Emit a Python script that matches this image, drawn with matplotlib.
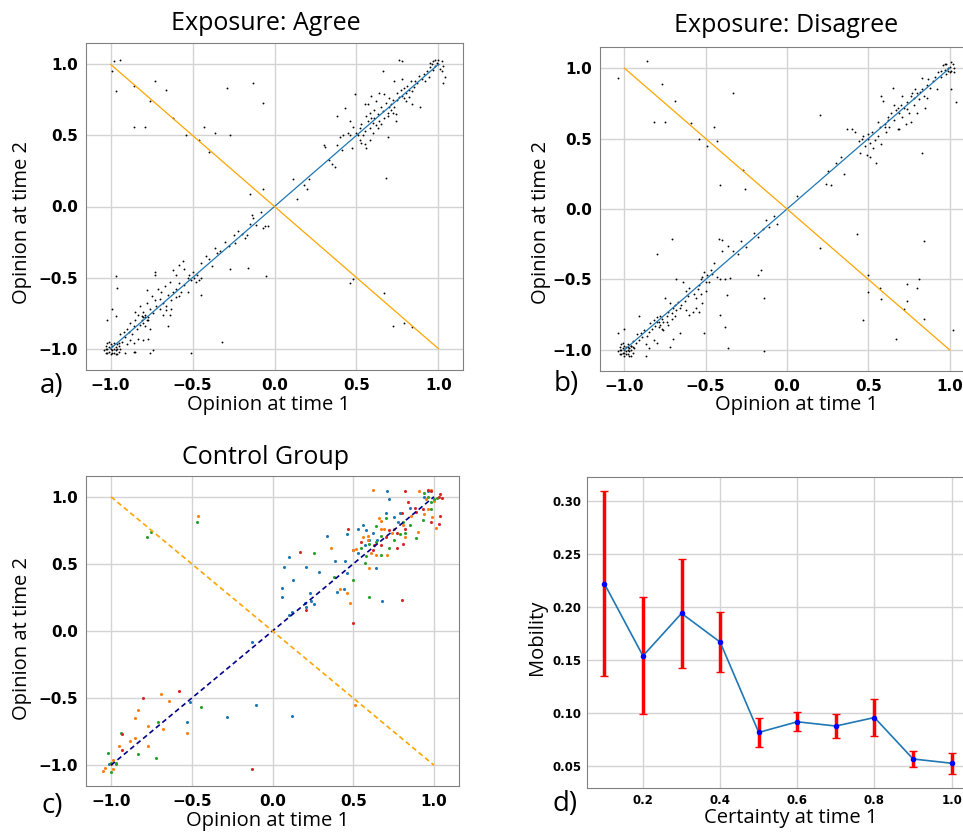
import numpy as np
import matplotlib.pyplot as plt

# ---- data ----
# panel a, Exposure: Agree  (opinion t1, opinion t2)
agree_pts = [
    (-0.98, 1.02), (-0.99, 0.95), (-0.94, 1.03), (-0.97, 0.81), (-0.86, 0.85), (-0.73, 0.88),
    (-0.66, 0.82), (-0.76, 0.74), (-0.86, 0.56), (-0.79, 0.56), (-0.62, 0.62), (-0.54, 0.50),
    (-0.46, 0.47), (-0.43, 0.56), (-0.36, 0.52), (-0.40, 0.38), (-0.29, 0.83), (-0.13, 0.87),
    (-0.07, 0.73), (-0.27, 0.50),
    (-0.15, 0.09), (-0.07, 0.12), (0.11, 0.19), (0.14, 0.05), (0.20, 0.12), (0.21, 0.19),
    (0.46, -0.54), (0.48, -0.51), (0.67, -0.61), (0.72, -0.84), (0.79, -0.82), (0.84, -0.85),
    (0.68, 0.20),
    (-0.32, -0.95), (-0.51, -1.03), (-0.05, -0.49), (-0.16, -0.43), (-0.45, -0.62), (-0.27, -0.44),
    (-0.97, -0.49), (-0.96, -0.57), (-1.02, -0.80), (-0.99, -0.72), (-0.97, -0.77), (-0.65, -0.84),
    (-0.74, -1.01), (-0.76, -1.03), (-0.91, -1.03), (-0.86, -1.02), (-0.85, -1.02), (-0.80, -0.94),
    (-0.45, -0.40), (-0.42, -0.35), (-0.40, -0.37), (-0.38, -0.42), (-0.36, -0.29), (-0.33, -0.31),
    (-0.30, -0.25), (-0.28, -0.28), (-0.25, -0.20), (-0.24, -0.26), (-0.22, -0.17), (-0.20, -0.19),
    (-0.18, -0.22), (-0.15, -0.12), (-0.14, -0.06), (-0.13, -0.08), (-0.11, -0.13), (-0.08, -0.04),
    (-0.06, -0.14), (-0.04, -0.14), (-0.07, -0.15), (-0.17, -0.20), (-0.35, -0.33),
    (-0.52, -0.48), (-0.50, -0.46), (-0.47, -0.48), (-0.46, -0.52), (-0.48, -0.53), (-0.51, -0.52),
    (-0.53, -0.50), (-0.49, -0.50), (-0.45, -0.50), (-0.55, -0.44), (-0.56, -0.38), (-0.58, -0.41),
    (-0.60, -0.48), (-0.62, -0.45), (-0.58, -0.54),
    (-0.62, -0.60), (-0.63, -0.66), (-0.65, -0.62), (-0.66, -0.70), (-0.67, -0.56), (-0.68, -0.68),
    (-0.70, -0.65), (-0.70, -0.72), (-0.72, -0.70), (-0.73, -0.66), (-0.74, -0.75), (-0.75, -0.63),
    (-0.76, -0.72), (-0.77, -0.78), (-0.78, -0.68), (-0.79, -0.76), (-0.80, -0.78), (-0.80, -0.74),
    (-0.81, -0.80), (-0.82, -0.83), (-0.83, -0.76), (-0.84, -0.86), (-0.85, -0.80), (-0.86, -0.84),
    (-0.87, -0.90), (-0.88, -0.82), (-0.89, -0.88), (-0.90, -0.86), (-0.91, -0.92), (-0.92, -0.88),
    (-0.93, -0.95), (-0.94, -0.90), (-0.95, -0.96), (-0.60, -0.58), (-0.57, -0.60), (-0.55, -0.55),
    (-0.64, -0.53), (-0.69, -0.60), (-0.71, -0.58), (-0.73, -0.46), (-0.73, -0.48), (-0.78, -0.59),
    (-0.66, -0.73), (-0.64, -0.76), (-0.60, -0.64), (-0.58, -0.63), (-0.53, -0.60), (-0.79, -0.84),
    (-0.77, -0.80), (-0.81, -0.77), (-0.79, -0.78), (-0.78, -0.80), (-0.80, -0.82), (-0.76, -0.86),
    (-0.77, -0.93), (-0.83, -0.93), (-0.86, -0.96), (-0.88, -0.94), (-0.90, -0.97), (-0.82, -0.70),
    (-0.68, -0.76), (-0.63, -0.72), (-0.85, -0.74),
    (-1.03, -0.98), (-1.02, -1.00), (-1.01, -1.02), (-1.00, -0.97), (-0.99, -1.01), (-0.98, -1.03),
    (-0.97, -0.99), (-0.96, -1.00), (-1.03, -1.03), (-1.02, -0.96), (-1.00, -1.04), (-0.98, -0.96),
    (-0.97, -1.04), (-0.96, -0.97), (-0.95, -1.02), (-1.01, -0.99), (-0.99, -0.98), (-1.04, -1.01),
    (-0.95, -0.98), (-1.00, -1.00), (-0.98, -1.00), (-1.02, -1.03), (-0.96, -1.04), (-1.01, -0.95),
    (-0.97, -1.01), (-0.94, -1.00), (-0.99, -1.03), (-1.03, -1.00),
    (0.30, 0.43), (0.31, 0.42), (0.33, 0.33), (0.35, 0.30), (0.37, 0.28), (0.38, 0.43), (0.38, 0.64),
    (0.40, 0.49), (0.41, 0.40), (0.42, 0.50), (0.43, 0.69), (0.45, 0.52), (0.46, 0.50), (0.46, 0.60),
    (0.47, 0.41), (0.48, 0.56), (0.49, 0.79), (0.50, 0.52), (0.51, 0.50), (0.52, 0.55), (0.52, 0.47),
    (0.53, 0.45), (0.54, 0.50), (0.55, 0.72), (0.55, 0.44), (0.56, 0.41), (0.56, 0.64), (0.57, 0.60),
    (0.58, 0.66), (0.58, 0.55), (0.59, 0.62), (0.60, 0.59), (0.61, 0.62), (0.61, 0.68), (0.62, 0.57),
    (0.62, 0.74), (0.63, 0.65), (0.63, 0.55), (0.64, 0.60), (0.65, 0.70), (0.66, 0.67), (0.66, 0.95),
    (0.67, 0.62), (0.68, 0.73), (0.69, 0.66), (0.69, 0.49), (0.70, 0.70), (0.71, 0.68), (0.71, 0.72),
    (0.72, 0.75), (0.72, 0.66), (0.73, 0.70), (0.74, 0.60), (0.75, 0.75), (0.75, 0.80), (0.76, 0.77),
    (0.77, 0.82), (0.78, 0.78), (0.78, 0.90), (0.79, 0.83), (0.80, 0.80), (0.80, 0.74), (0.81, 0.85),
    (0.82, 0.77), (0.83, 0.88), (0.84, 0.72), (0.85, 0.84), (0.86, 0.88), (0.87, 0.87), (0.88, 0.92),
    (0.89, 0.70), (0.90, 0.90), (0.91, 0.93), (0.92, 0.88), (0.93, 0.95), (0.94, 0.91), (0.95, 0.98),
    (0.96, 1.00), (0.97, 1.02), (0.98, 0.99), (0.99, 1.01), (1.00, 1.00), (1.01, 0.97), (1.02, 1.02),
    (1.03, 0.99), (1.00, 1.03), (0.97, 0.96), (1.02, 0.95), (1.04, 0.91), (1.03, 0.87), (0.98, 1.03),
    (0.95, 1.01), (0.76, 1.03), (0.78, 1.02), (0.64, 0.80), (0.57, 0.72), (0.59, 0.78), (0.67, 0.79),
    (0.73, 0.88), (0.69, 0.64), (0.60, 0.52), (0.58, 0.47), (0.55, 0.53), (0.53, 0.58), (0.65, 0.58),
    (0.70, 0.76), (0.74, 0.65), (0.82, 0.82), (0.84, 0.81), (0.79, 0.76), (0.18, 0.15),
]

# panel b, Exposure: Disagree
disagree_pts = [
    (-1.04, 0.93), (-0.86, 1.05), (-0.77, 0.89), (-0.69, 0.77), (-0.82, 0.62), (-0.75, 0.62),
    (-0.59, 0.61), (-0.54, 0.50), (-0.49, 0.45), (-0.45, 0.58), (-0.43, 0.48), (-0.33, 0.82),
    (-0.27, 0.28), (-0.26, 0.14), (-0.41, 0.17), (-0.06, -0.11), (0.06, 0.09), (0.20, 0.67),
    (0.20, -0.28), (0.43, -0.18), (0.50, -0.47), (0.50, -0.59), (0.57, -0.56), (0.58, -0.64),
    (0.47, -0.79), (0.67, -0.92), (0.74, -0.65), (0.74, -0.53), (0.80, -0.56), (0.81, -0.50),
    (0.84, -0.23), (0.84, -0.78), (0.72, -0.71), (1.02, -0.86), (1.04, 0.76), (0.83, 0.40),
    (1.01, 0.85),
    (-0.71, -0.21), (-0.80, -0.32), (-0.16, -0.43), (-0.18, -0.47), (-0.14, -0.63), (-0.14, -1.01),
    (-0.36, -0.99), (-0.38, -0.84), (-0.41, -0.75), (-0.51, -0.88), (-0.37, -0.61), (-0.87, -1.04),
    (-0.85, -0.99), (-0.72, -0.98), (-0.80, -0.95), (-0.70, -0.92), (-0.66, -0.88), (-1.04, -0.88),
    (-1.00, -0.85), (-0.91, -0.76),
    (-0.45, -0.38), (-0.43, -0.48), (-0.40, -0.30), (-0.40, -0.22), (-0.42, -0.21), (-0.36, -0.26),
    (-0.33, -0.30), (-0.30, -0.32), (-0.28, -0.23), (-0.25, -0.27), (-0.20, -0.17), (-0.18, -0.20),
    (-0.15, -0.14), (-0.13, -0.08), (-0.11, -0.13), (-0.08, -0.05), (-0.38, -0.50), (-0.41, -0.50),
    (-0.35, -0.49), (-0.47, -0.43), (-0.46, -0.46),
    (-0.52, -0.48), (-0.50, -0.52), (-0.49, -0.47), (-0.53, -0.50), (-0.48, -0.52), (-0.51, -0.45),
    (-0.54, -0.54), (-0.55, -0.57), (-0.57, -0.60), (-0.56, -0.63), (-0.53, -0.60), (-0.50, -0.58),
    (-0.52, -0.67), (-0.60, -0.56), (-0.62, -0.58), (-0.61, -0.62), (-0.63, -0.65), (-0.64, -0.52),
    (-0.68, -0.50),
    (-0.65, -0.68), (-0.66, -0.70), (-0.67, -0.66), (-0.68, -0.72), (-0.69, -0.68), (-0.70, -0.70),
    (-0.71, -0.74), (-0.72, -0.67), (-0.73, -0.73), (-0.74, -0.76), (-0.75, -0.63), (-0.76, -0.80),
    (-0.77, -0.78), (-0.78, -0.82), (-0.79, -0.80), (-0.80, -0.77), (-0.81, -0.83), (-0.82, -0.79),
    (-0.83, -0.85), (-0.84, -0.81), (-0.85, -0.87), (-0.86, -0.90), (-0.88, -0.86), (-0.89, -0.91),
    (-0.90, -0.88), (-0.91, -0.93), (-0.92, -0.89), (-0.93, -0.95), (-0.95, -0.94), (-0.96, -0.97),
    (-0.78, -0.76), (-0.80, -0.80), (-0.79, -0.84), (-0.77, -0.85), (-0.74, -0.80), (-0.71, -0.78),
    (-0.69, -0.76), (-0.62, -0.72), (-0.60, -0.75), (-0.58, -0.73), (-0.56, -0.70), (-0.54, -0.73),
    (-0.87, -0.96), (-0.82, -0.93), (-0.76, -0.86), (-0.73, -0.82),
    (-1.03, -0.98), (-1.02, -1.00), (-1.01, -1.02), (-1.00, -0.97), (-0.99, -1.01), (-0.98, -1.03),
    (-0.97, -0.99), (-0.96, -1.00), (-1.03, -1.03), (-1.02, -0.96), (-1.00, -1.04), (-0.98, -0.96),
    (-0.97, -1.04), (-0.96, -0.97), (-0.95, -1.02), (-1.01, -0.99), (-0.99, -0.98), (-1.04, -1.01),
    (-0.95, -0.98), (-1.00, -1.00), (-0.98, -1.00), (-1.02, -1.03), (-0.96, -1.04), (-1.01, -0.95),
    (-0.97, -1.01), (-0.94, -0.99), (-0.99, -1.03), (-1.03, -1.00), (-1.00, -1.02), (-0.98, -0.98),
    (0.25, 0.27), (0.27, 0.17), (0.24, 0.18), (0.30, 0.33), (0.33, 0.37), (0.35, 0.25), (0.37, 0.57),
    (0.40, 0.57), (0.42, 0.55), (0.44, 0.48), (0.45, 0.40), (0.46, 0.50), (0.47, 0.52), (0.48, 0.45),
    (0.49, 0.38), (0.50, 0.50), (0.50, 0.53), (0.51, 0.47), (0.51, 0.37), (0.52, 0.55), (0.53, 0.43),
    (0.54, 0.49), (0.55, 0.33), (0.56, 0.52), (0.56, 0.62), (0.57, 0.58), (0.58, 0.46), (0.58, 0.80),
    (0.59, 0.77), (0.60, 0.60), (0.61, 0.55), (0.62, 0.63), (0.62, 0.65), (0.63, 0.58), (0.64, 0.68),
    (0.65, 0.86), (0.66, 0.63), (0.67, 0.70), (0.68, 0.72), (0.68, 0.57), (0.69, 0.68), (0.70, 0.74),
    (0.71, 0.65), (0.72, 0.72), (0.73, 0.60), (0.74, 0.76), (0.75, 0.68), (0.76, 0.80), (0.77, 0.82),
    (0.78, 0.74), (0.79, 0.85), (0.80, 0.68), (0.81, 0.78), (0.82, 0.83), (0.83, 0.85), (0.84, 0.80),
    (0.85, 0.72), (0.86, 0.88), (0.87, 0.92), (0.88, 0.86), (0.90, 0.91), (0.91, 0.94), (0.92, 0.85),
    (0.93, 0.97), (0.95, 0.98), (0.96, 1.02), (0.97, 0.99), (0.98, 1.03), (0.99, 1.00), (1.00, 1.01),
    (1.01, 0.98), (1.02, 1.03), (1.03, 1.00), (1.00, 0.97), (0.98, 0.96), (1.01, 1.04), (0.97, 1.03),
    (1.03, 0.97), (0.99, 0.98), (0.95, 0.94), (0.71, 0.80), (0.66, 0.74), (0.60, 0.58), (0.74, 0.71),
    (0.78, 0.79), (0.69, 0.57), (0.76, 0.62), (0.80, 0.82), (0.86, 0.79), (0.83, 0.93),
]

# panel c, Control Group, four groups
control_blue = [
    (0.71, 1.04), (0.72, 0.98), (0.96, 1.04), (0.70, 0.88), (0.75, 0.85), (0.78, 0.81), (0.56, 0.79),
    (0.58, 0.75), (0.53, 0.76), (0.46, 0.72), (0.34, 0.71), (0.62, 0.73), (0.65, 0.68), (0.57, 0.64),
    (0.53, 0.58), (0.39, 0.52), (0.45, 0.52), (0.10, 0.55), (0.07, 0.48), (0.21, 0.48), (0.29, 0.44),
    (0.13, 0.38), (0.06, 0.32), (0.06, 0.25), (0.24, 0.22), (0.20, 0.21), (0.21, 0.18), (0.23, 0.28),
    (0.26, 0.20), (0.46, 0.43), (0.68, 0.22), (0.64, 0.47), (0.40, 0.29), (0.44, 0.31), (0.10, 0.12),
    (0.12, 0.14), (-0.13, -0.08), (-0.10, -0.55), (-0.28, -0.64), (0.12, -0.63), (-0.53, -0.68),
    (-0.51, -0.53), (-1.01, -0.99), (0.79, 0.88), (0.85, 0.92), (0.94, 1.00), (0.50, 0.60), (0.60, 0.68),
]
control_orange = [
    (0.62, 1.05), (0.91, 1.04), (0.98, 1.05), (1.01, 0.77), (0.99, 0.85), (0.96, 0.91), (0.66, 0.84),
    (0.67, 0.76), (0.59, 0.71), (0.56, 0.70), (0.52, 0.61), (0.50, 0.60), (0.61, 0.58), (0.64, 0.57),
    (0.69, 0.76), (0.74, 0.73), (0.81, 0.79), (0.82, 0.70), (0.90, 0.74), (0.36, 0.62), (0.60, 0.47),
    (0.46, 0.28), (0.48, 0.21), (0.42, 0.31), (0.51, -0.55), (-0.46, 0.86), (-1.00, -0.99),
    (-1.05, -1.04), (-1.04, -1.02), (-0.99, -1.03), (-0.95, -0.86), (-0.88, -0.82), (-0.85, -0.80),
    (-0.83, -0.59), (-0.85, -0.65), (-0.77, -0.71), (-0.77, -0.86), (-0.68, -0.73), (-0.69, -0.47),
    (-0.64, -0.52), (-0.53, -0.76), (-0.99, -0.96), (0.71, 0.57), (0.86, 0.86), (0.95, 0.98),
    (1.00, 0.97), (0.75, 0.76), (0.67, 0.82), (0.59, 0.68), (0.94, 0.87),
]
control_green = [
    (0.94, 1.03), (0.96, 1.00), (1.02, 0.99), (0.98, 0.91), (0.93, 0.83), (0.89, 0.69), (0.82, 0.73),
    (0.85, 0.79), (0.70, 0.84), (0.64, 0.78), (0.60, 0.65), (0.55, 0.62), (0.67, 0.57), (0.57, 0.51),
    (0.58, 0.56), (0.64, 0.66), (0.72, 0.62), (0.75, 0.68), (0.79, 0.72), (0.50, 0.38), (0.60, 0.25),
    (0.26, 0.58), (0.38, 0.40), (-0.47, 0.81), (-0.78, 0.70), (-0.75, 0.74), (-0.44, -0.57),
    (-0.71, -0.68), (-0.94, -0.76), (-0.83, -0.92), (-0.72, -0.95), (-1.02, -0.91), (-1.00, -0.98),
    (-0.97, -0.99), (-1.00, -1.05), (-0.97, -0.98), (1.00, 0.98), (0.98, 0.96), (0.67, 0.71), (0.81, 0.81),
]
control_red = [
    (0.82, 1.04), (0.84, 0.96), (0.96, 1.05), (0.98, 1.04), (1.04, 1.02), (1.03, 1.00), (1.05, 0.99),
    (1.04, 0.86), (1.03, 0.80), (0.98, 0.81), (0.88, 0.92), (0.80, 0.88), (0.82, 0.76), (0.77, 0.73),
    (0.70, 0.70), (0.63, 0.64), (0.77, 0.62), (0.81, 0.65), (0.47, 0.76), (0.62, 0.60), (0.67, 0.64),
    (0.17, 0.59), (0.21, 0.16), (0.50, 0.06), (0.80, 0.23), (-0.58, -0.45), (-0.80, -0.50),
    (-0.93, -0.77), (-0.93, -0.89), (-0.13, -1.03), (0.93, 0.91), (0.89, 0.89), (0.55, 0.66), (0.72, 0.75),
]

# panel d, mobility vs certainty
certainty = [0.1, 0.2, 0.3, 0.4, 0.5, 0.6, 0.7, 0.8, 0.9, 1.0]
mobility = [0.222, 0.154, 0.194, 0.167, 0.082, 0.092, 0.088, 0.096, 0.057, 0.053]
mobility_err = [0.087, 0.055, 0.051, 0.028, 0.014, 0.009, 0.011, 0.017, 0.0075, 0.010]

plt.rcParams['font.weight'] = 'bold'   # tick labels are bold in the original

W, H = 963, 834
fig = plt.figure(figsize=(W / 100, H / 100), dpi=100)
LBL = ['Open Sans', 'DejaVu Sans']


def ax_px(l, t, r, b):
    return fig.add_axes([l / W, 1 - b / H, (r - l) / W, (b - t) / H])


def ftext(x, y, s, **kw):
    fig.text(x / W, 1 - y / H, s, ha='center', va='center', family=LBL,
             fontweight='normal', **kw)


def style(ax, tsize=11):
    ax.grid(True, color='#d3d3d3', lw=1)
    ax.set_axisbelow(True)
    for sp in ax.spines.values():
        sp.set_color('#808080')
    ax.tick_params(length=0, pad=6, labelsize=tsize)


def opinion_panel(ax, pts):
    p = np.array(pts)
    ax.scatter(p[:, 0], p[:, 1], s=1.8, c='black', zorder=3, linewidths=0)
    ax.plot([-1, 1], [-1, 1], color='#1f77b4', lw=0.9, zorder=4)
    ax.plot([-1, 1], [1, -1], color='orange', lw=0.9, zorder=4)
    ax.set_xlim(-1.15, 1.15)
    ax.set_ylim(-1.15, 1.15)
    ax.set_xticks([-1, -0.5, 0, 0.5, 1])
    ax.set_yticks([-1, -0.5, 0, 0.5, 1])
    style(ax)


ax_a = ax_px(86, 43, 463, 370)
opinion_panel(ax_a, agree_pts)
ax_b = ax_px(600, 47, 974, 371)
opinion_panel(ax_b, disagree_pts)

# panel c
ax_c = ax_px(86, 476, 459, 786)
for pts, col in [(control_blue, '#1f77b4'), (control_orange, '#ff7f0e'),
                 (control_green, '#2ca02c'), (control_red, '#d62728')]:
    p = np.array(pts)
    ax_c.scatter(p[:, 0], p[:, 1], s=5, c=col, zorder=3, linewidths=0)
ax_c.plot([-1, 1], [-1, 1], color='darkblue', ls=(0, (3, 2)), lw=1.2, zorder=4)
ax_c.plot([-1, 1], [1, -1], color='orange', ls=(0, (3, 2)), lw=1.2, zorder=4)
ax_c.set_xlim(-1.155, 1.155)
ax_c.set_ylim(-1.155, 1.155)
ax_c.set_xticks([-1, -0.5, 0, 0.5, 1])
ax_c.set_yticks([-1, -0.5, 0, 0.5, 1])
style(ax_c)

# panel d
ax_d = ax_px(587, 477, 969, 788)
ax_d.errorbar(certainty, mobility, yerr=mobility_err, color='#1f77b4', lw=1.2,
              marker='o', ms=3, mfc='blue', mec='blue', ecolor='red',
              elinewidth=2.5, capsize=3, capthick=1, zorder=3)
ax_d.set_xticks([0.2, 0.4, 0.6, 0.8, 1.0])
ax_d.set_yticks([0.05, 0.10, 0.15, 0.20, 0.25, 0.30])
style(ax_d, tsize=8.5)
ax_d.tick_params(pad=4)

# titles and labels
ftext(266, 24, 'Exposure: Agree', fontsize=18)
ftext(786, 25, 'Exposure: Disagree', fontsize=18)
ftext(265, 457, 'Control Group', fontsize=18)
for x, y, s in [(269, 405, 'Opinion at time 1'), (797, 405, 'Opinion at time 1'),
                (268, 821, 'Opinion at time 1'), (791, 818, 'Certainty at time 1')]:
    ftext(x, y, s, fontsize=14.5)
for x, y, s in [(22, 222, 'Opinion at time 2'), (541, 222, 'Opinion at time 2'),
                (22, 638, 'Opinion at time 2'), (537, 637, 'Mobility')]:
    ftext(x, y, s, fontsize=14.5, rotation=90)
for x, y, s in [(52, 386, 'a)'), (566, 384, 'b)'), (52, 806, 'c)'), (565, 804, 'd)')]:
    ftext(x, y, s, fontsize=20)

fig.savefig('out.png', dpi=100)
